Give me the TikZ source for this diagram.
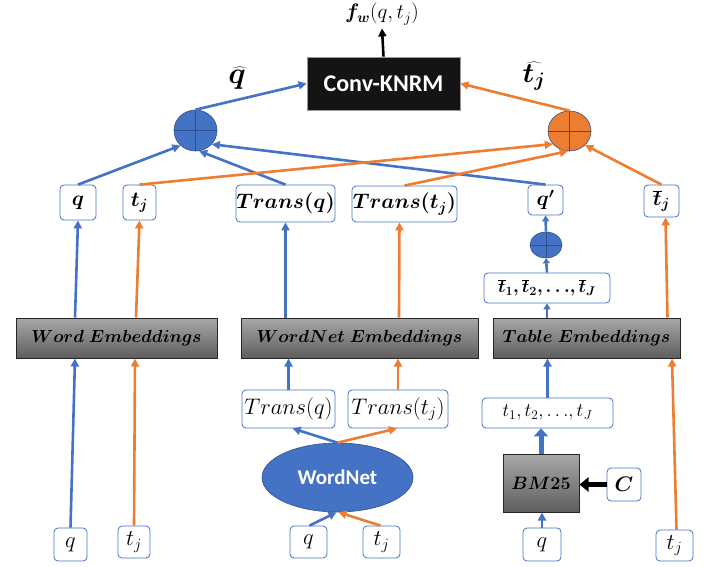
\RequirePackage{fix-cm}
\documentclass[tikz,border=0pt]{standalone}
\usepackage{fontspec}
\usepackage{bm}
\newfontfamily\calibri{Carlito}
\usetikzlibrary{arrows.meta,shapes.geometric,calc}
\definecolor{myblue}{HTML}{4472C4}
\definecolor{myorange}{HTML}{ED7D31}
\definecolor{darkblue}{HTML}{2F528F}
\definecolor{embtop}{HTML}{A8A8A8}
\definecolor{embbot}{HTML}{5E5E5E}
\newcommand{\tdots}{{\ldotp\ldotp\ldotp}}
\begin{document}
\begin{tikzpicture}[x=1pt,y=-1pt,
  box/.style={draw=myblue, line width=0.8pt, rounded corners=4pt, fill=white, inner sep=0pt, font=\fontsize{21}{25}\selectfont},
  sbox/.style={box, font=\fontsize{22.5}{26}\selectfont},
  emb/.style={draw=black!85, line width=1pt, top color=embtop, bottom color=embbot, inner sep=0pt, font=\fontsize{17.5}{21}\selectfont},
  plus/.style={ellipse, draw=darkblue, line width=0.6pt, inner sep=0pt},
  tip/.style={-{Triangle[length=8pt,width=8pt]}},
  barrow/.style={myblue, line width=2.6pt, tip},
  oarrow/.style={myorange, line width=2.6pt, tip}
]
\useasboundingbox (0,0) rectangle (718,567);

% top
\node[fill=black!92, draw=black!40, line width=0.8pt, minimum width=153pt, minimum height=53pt, inner sep=0pt,
      text=white, font=\calibri\bfseries\fontsize{24}{28}\selectfont] (conv) at (383.5,83.5) {Conv-KNRM};
\node[font=\fontsize{21}{24}\selectfont] (fw) at (382,14) {$\bm{f_w}(q,t_j)$};
\draw[black, line width=2.6pt, tip] (conv.north) -- (fw.south);

\node[plus, fill=myblue, minimum width=43pt, minimum height=41pt] (bc) at (195.5,130.5) {};
\draw[darkblue, line width=0.6pt] (bc.north) -- (bc.south) (bc.west) -- (bc.east);
\node[plus, fill=myorange, minimum width=43pt, minimum height=40pt] (oc) at (569.5,131) {};
\draw[darkblue, line width=0.6pt] (oc.north) -- (oc.south) (oc.west) -- (oc.east);

\node[font=\fontsize{30}{34}\selectfont] (qhat) at (237,78) {$\widehat{\bm q}$};
\node[font=\fontsize{28}{32}\selectfont] (that) at (534,76) {$\widehat{\bm{t}_{\bm j}}$};

\draw[barrow] (bc.north) -- (conv.west);
\draw[oarrow] (oc.north) -- (conv.east);

% top row boxes
\node[box, minimum width=36pt, minimum height=35pt] (q1) at (78,202.5) {$\bm q$};
\node[box, minimum width=33pt, minimum height=35pt] (t1) at (139.5,202.5) {$\bm{t_j}$};
\node[box, minimum width=99pt, minimum height=37pt] (trq) at (285.5,203.5) {$\bm{Trans(q)}$};
\node[box, minimum width=105pt, minimum height=36pt] (trt) at (404.5,204) {$\bm{Trans(t_j)}$};
\node[box, minimum width=35pt, minimum height=30pt] (qp) at (545.5,200) {$\bm{q'}$};
\node[box, minimum width=35pt, minimum height=32pt] (tb) at (661.5,201) {$\bm{\overline{t}_j}$};

% into the plus circles
\draw[barrow] (q1.north) -- (bc.225);
\draw[barrow] (trq.north) -- (bc.280);
\draw[barrow] (qp.north) -- (bc.320);
\draw[oarrow] (t1.north) -- (oc.218);
\draw[oarrow] (trt.north) -- (oc.265);
\draw[oarrow] (tb.north) -- (oc.318);

% embeddings
\node[emb, minimum width=201pt, minimum height=40pt] (we) at (116.5,338) {$\bm{Word\ Embeddings}$};
\node[emb, minimum width=237pt, minimum height=40pt] (wne) at (359.5,338) {$\bm{WordNet\ Embeddings}$};
\node[emb, minimum width=187pt, minimum height=40pt] (te) at (586.5,338) {$\bm{Table\ Embeddings}$};

\draw[barrow] ($(we.north)+(-41.5,0)$) -- (q1.south);
\draw[oarrow] ($(we.north)+(19.5,0)$) -- (t1.south);
\draw[barrow] (trq.south |- wne.north) -- (trq.south);
\draw[oarrow] ($(wne.north)+(39.5,0)$) -- ($(trt.south)+(-5,0)$);

% table branch
\node[box, minimum width=126pt, minimum height=30pt, font=\fontsize{18}{22}\selectfont] (tbl) at (547,288) {$\bm{\overline{t}_1, \overline{t}_2, \tdots, \overline{t}_J}$};
\node[plus, fill=myblue, minimum width=32pt, minimum height=26pt] (sc) at (546,245) {};
\draw[darkblue, line width=0.6pt] (sc.north) -- (sc.south) (sc.west) -- (sc.east);
\draw[myblue, line width=2.6pt, -{Triangle[length=6pt,width=7pt]}] (te.north -| tbl.south) -- (tbl.south);
\draw[myblue, line width=2.6pt, -{Triangle[length=5pt,width=7pt]}] (tbl.north) -- (sc.south);
\draw[myblue, line width=2.6pt, -{Triangle[length=6pt,width=7pt]}] (sc.north) -- (qp.south);
\draw[oarrow] ($(te.north)+(81,0)$) -- ($(tb.south)+(4,0)$);

% bottom, word embeddings inputs
\node[sbox, minimum width=33pt, minimum height=33pt] (qa) at (70.5,544.5) {$q$};
\node[sbox, minimum width=32pt, minimum height=32pt] (ta) at (134,542) {$t_j$};
\draw[barrow] (qa.north) -- ($(we.south)+(-41.5,0)$);
\draw[oarrow] (ta.north) -- ($(we.south)+(18.5,0)$);

% WordNet branch
\node[sbox, minimum width=93pt, minimum height=38pt] (trq2) at (288.5,409) {$Trans(q)$};
\node[sbox, minimum width=100pt, minimum height=38pt] (trt2) at (398,409) {$Trans(t_j)$};
\draw[barrow] (trq2.north) -- (trq2.north |- wne.south);
\draw[oarrow] (trt2.north) -- (trt2.north |- wne.south);
\node[ellipse, fill=myblue, draw=darkblue, line width=0.6pt, minimum width=151pt, minimum height=69pt, inner sep=0pt,
      text=white, font=\calibri\bfseries\fontsize{21}{24}\selectfont] (wn) at (337.5,477.5) {WordNet};
\draw[barrow] (wn.north) -- ($(trq2.south)+(4,0)$);
\draw[oarrow] (wn.north) -- ($(trt2.south)+(-1,0)$);
\node[sbox, minimum width=37pt, minimum height=32pt] (qb) at (308.5,542) {$q$};
\node[sbox, minimum width=37pt, minimum height=32pt] (tbot) at (381.5,542) {$t_j$};
\draw[barrow] ($(qb.north)+(1,0)$) -- ($(wn.south)+(-1,0)$);
\draw[oarrow] ($(tbot.north)+(-1,0)$) -- ($(wn.south)+(1,0)$);

% table inputs
\node[sbox, minimum width=131pt, minimum height=30pt, font=\fontsize{19}{22}\selectfont] (tl) at (547.5,413) {$t_1, t_2, \tdots, t_J$};
\draw[barrow] (tl.north) -- (te.south -| tl.north);
\node[emb, minimum width=76pt, minimum height=58pt, font=\fontsize{18}{22}\selectfont] (bm) at (541,483) {$\bm{BM25}$};
\draw[myblue, line width=5pt, -{Triangle[length=8pt,width=14pt]}] (bm.north) -- (bm.north |- tl.south);
\node[sbox, minimum width=34pt, minimum height=33pt, font=\fontsize{21}{25}\selectfont] (cc) at (624,484.5) {$\bm C$};
\draw[black, line width=5pt, -{Triangle[length=9pt,width=14pt]}] (cc.west) -- (bm.east |- cc.west);
\node[sbox, minimum width=38pt, minimum height=33pt] (qc) at (542,544.5) {$q$};
\draw[barrow] (qc.north) -- (qc.north |- bm.south);
\node[sbox, minimum width=37pt, minimum height=31pt] (td) at (674.5,545.5) {$t_j$};
\draw[oarrow] ($(td.north)+(2,0)$) -- ($(te.south)+(85.5,0)$);
\end{tikzpicture}
\end{document}
